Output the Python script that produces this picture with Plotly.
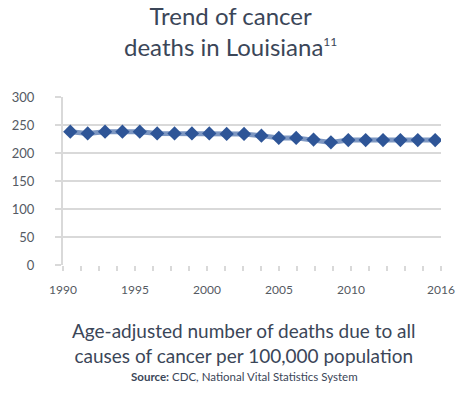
import plotly.graph_objects as go

# Data
point_index = list(range(22))
death_rates = [238, 235, 238, 238, 238, 235, 235, 235, 235, 234, 234, 231,
               227, 227, 224, 219, 223, 223, 223, 223, 223, 223]
tick_labels = ["1990", "", "", "", "1995", "", "", "", "2000", "", "", "",
               "2005", "", "", "", "2010", "", "", "", "", "2016"]
y_ticks = [0, 50, 100, 150, 200, 250, 300]

tick_step = 1.036
tick_start = -0.42
tick_vals = [tick_start + tick_step * j for j in range(len(tick_labels))]

grid = "#d9d9d9"
text_col = "#3b4658"

fig = go.Figure()
fig.add_trace(go.Scatter(
    x=point_index, y=death_rates, mode="lines+markers",
    line=dict(color="#7d97c2", width=5),
    marker=dict(symbol="diamond", size=11, color="#2e5597"),
    showlegend=False, hoverinfo="skip"))

fig.update_layout(
    width=474, height=395,
    paper_bgcolor="white", plot_bgcolor="white",
    margin=dict(l=58, r=33, t=97, b=130),
    font=dict(family="Lato, Open Sans, sans-serif", color="#555a63"),
    xaxis=dict(range=[tick_vals[0], tick_vals[-1]], tickmode="array",
               tickvals=tick_vals, ticktext=tick_labels,
               showgrid=False, zeroline=False,
               showline=False, ticks="outside", ticklen=5, tickwidth=2,
               tickcolor=grid, ticklabelstandoff=9,
               tickfont=dict(size=12, color="#555a63")),
    yaxis=dict(range=[0, 300], tickvals=y_ticks, showgrid=True,
               gridcolor=grid, gridwidth=2, zeroline=False,
               showline=True, linecolor=grid, linewidth=2,
               ticks="outside", ticklen=6, tickwidth=2, tickcolor=grid,
               ticklabelstandoff=18,
               tickfont=dict(size=13, color="#555a63")),
    annotations=[
        dict(text="Trend of cancer<br>deaths in Louisiana<sup><span style='font-size:12px'>11</span></sup>",
             xref="paper", yref="paper", x=0.444, y=1.39, xanchor="center",
             yanchor="middle", showarrow=False,
             font=dict(size=24, color=text_col)),
        dict(text="Age-adjusted number of deaths due to all<br>causes of cancer per 100,000 population",
             xref="paper", yref="paper", x=0.48, y=-0.467, xanchor="center",
             yanchor="middle", showarrow=False,
             font=dict(size=19, color=text_col)),
        dict(text="<b>Source:</b> CDC, National Vital Statistics System",
             xref="paper", yref="paper", x=0.48, y=-0.661, xanchor="center",
             yanchor="middle", showarrow=False,
             font=dict(size=11.5, color=text_col)),
    ],
)

fig.write_html("out.html", config={"displayModeBar": False},
               post_script="document.body.style.margin='0';")
